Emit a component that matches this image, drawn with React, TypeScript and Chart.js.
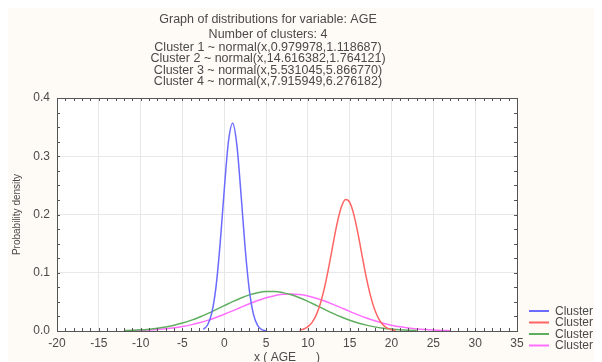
import React, { useEffect, useRef } from "react";
import { Chart, registerables } from "chart.js";

Chart.register(...registerables);

const titleLines = [
  "Graph of distributions for variable: AGE",
  "Number of clusters: 4",
  "Cluster 1 ~ normal(x,0.979978,1.118687)",
  "Cluster 2 ~ normal(x,14.616382,1.764121)",
  "Cluster 3 ~ normal(x,5.531045,5.866770)",
  "Cluster 4 ~ normal(x,7.915949,6.276182)",
];
const seriesNames = ["Cluster 1", "Cluster 2", "Cluster 3", "Cluster 4"];
const seriesColors = ["#6b6bff", "#ff6464", "#5fae5f", "#ff6eff"];
const xAxisTitle = "x ( AGE      )";
const yAxisTitle = "Probability density";

const c1X = [-2.5, -2, -1.5, -1, -0.5, 0, 0.5, 1, 1.5, 2, 2.5, 3, 3.5, 4, 4.5, 5];
const c1Y = [0.0028, 0.0103, 0.0306, 0.0745, 0.1487, 0.243, 0.3253, 0.3566, 0.3201, 0.2353, 0.1417, 0.0699, 0.0282, 0.0093, 0.0025, 0.0006];

const c2X = [9, 9.5, 10, 10.5, 11, 11.5, 12, 12.5, 13, 13.5, 14, 14.5, 15, 15.5, 16, 16.5, 17, 17.5, 18, 18.5, 19, 19.5, 20, 20.5];
const c2Y = [0.0014, 0.0034, 0.0074, 0.0149, 0.0277, 0.0475, 0.0753, 0.1101, 0.1486, 0.1851, 0.2127, 0.2256, 0.2208, 0.1994, 0.1662, 0.1278, 0.0907, 0.0594, 0.0359, 0.02, 0.0103, 0.0049, 0.0022, 0.0009];

const c3X = [-12, -11, -10, -9, -8, -7, -6, -5, -4, -3, -2, -1, 0, 1, 2, 3, 4, 5, 6, 7, 8, 9, 10, 11, 12, 13, 14, 15, 16, 17, 18, 19, 20, 21, 22, 23];
const c3Y = [0.0008, 0.0013, 0.002, 0.0032, 0.0048, 0.0069, 0.0099, 0.0136, 0.0182, 0.0236, 0.0298, 0.0366, 0.0436, 0.0505, 0.0567, 0.062, 0.0657, 0.0677, 0.0678, 0.0659, 0.0622, 0.0571, 0.0509, 0.044, 0.037, 0.0302, 0.024, 0.0185, 0.0138, 0.0101, 0.0071, 0.0049, 0.0033, 0.0021, 0.0013, 0.0008];

const c4X = [-11, -10, -9, -8, -7, -6, -5, -4, -3, -2, -1, 0, 1, 2, 3, 4, 5, 6, 7, 8, 9, 10, 11, 12, 13, 14, 15, 16, 17, 18, 19, 20, 21, 22, 23, 24, 25, 26, 27];
const c4Y = [0.0007, 0.0011, 0.0017, 0.0026, 0.0038, 0.0054, 0.0076, 0.0105, 0.014, 0.0182, 0.0232, 0.0287, 0.0346, 0.0408, 0.0468, 0.0523, 0.0571, 0.0607, 0.0629, 0.0636, 0.0626, 0.0602, 0.0563, 0.0514, 0.0458, 0.0397, 0.0336, 0.0277, 0.0223, 0.0175, 0.0134, 0.01, 0.0072, 0.0051, 0.0035, 0.0024, 0.0016, 0.001, 0.0006];

const xMin = -20;
const xMax = 35;
const xStep = 5;
const xMinorStep = 1;
const yMin = 0;
const yMax = 0.4;
const yStep = 0.1;
const yMinorStep = 0.025;

const FONT = "'Liberation Sans', Arial, sans-serif";
const TEXT = "#4a4a4a";
const BG = "#fefbf6";

const W = 594;
const H = 354;

function pts(xs: number[], ys: number[]) {
  return xs.map((x, i) => ({ x, y: ys[i] }));
}

const decorPlugin = {
  id: "decor",
  beforeDraw(chart: any) {
    const { ctx, chartArea } = chart;
    ctx.save();
    ctx.fillStyle = BG;
    ctx.fillRect(0, 0, chart.width, chart.height);
    ctx.fillStyle = "#ffffff";
    ctx.fillRect(chartArea.left, chartArea.top, chartArea.right - chartArea.left, chartArea.bottom - chartArea.top);
    ctx.restore();
  },
  afterDraw(chart: any) {
    const { ctx, chartArea } = chart;
    const xs = chart.scales.x;
    const ys = chart.scales.y;
    const { left, right, top, bottom } = chartArea;
    ctx.save();
    // frame
    ctx.strokeStyle = "#555555";
    ctx.lineWidth = 1;
    ctx.strokeRect(Math.round(left) + 0.5, Math.round(top) + 0.5, Math.round(right - left), Math.round(bottom - top));
    // minor ticks
    ctx.beginPath();
    for (let v = xMin; v <= xMax + 1e-9; v += xMinorStep) {
      const p = Math.round(xs.getPixelForValue(v)) + 0.5;
      ctx.moveTo(p, bottom);
      ctx.lineTo(p, bottom - 3);
      ctx.moveTo(p, top);
      ctx.lineTo(p, top + 3);
    }
    for (let v = yMin; v <= yMax + 1e-9; v += yMinorStep) {
      const p = Math.round(ys.getPixelForValue(v)) + 0.5;
      ctx.moveTo(left, p);
      ctx.lineTo(left + 3, p);
      ctx.moveTo(right, p);
      ctx.lineTo(right - 3, p);
    }
    ctx.stroke();

    // title
    ctx.fillStyle = TEXT;
    ctx.font = `12.5px ${FONT}`;
    ctx.textAlign = "center";
    ctx.textBaseline = "middle";
    const titleY = [11.5, 26.5, 39.5, 51, 62.5, 74];
    titleLines.forEach((t, i) => ctx.fillText(t, 260, titleY[i]));

    // axis titles
    ctx.font = `12px ${FONT}`;
    ctx.fillText(xAxisTitle, (left + right) / 2, 350);
    ctx.save();
    ctx.translate(9, (top + bottom) / 2);
    ctx.rotate(-Math.PI / 2);
    ctx.font = `10px ${FONT}`;
    ctx.fillText(yAxisTitle, 0, 0);
    ctx.restore();

    // legend
    ctx.textAlign = "left";
    ctx.font = `12px ${FONT}`;
    const legY = [303, 314.5, 326, 337.5];
    seriesNames.forEach((n, i) => {
      ctx.strokeStyle = seriesColors[i];
      ctx.lineWidth = 2;
      ctx.beginPath();
      ctx.moveTo(521, legY[i]);
      ctx.lineTo(541, legY[i]);
      ctx.stroke();
      ctx.fillStyle = TEXT;
      ctx.fillText(n, 547, legY[i] + 0.5);
    });
    ctx.restore();
  },
};

export default function App() {
  const ref = useRef<HTMLCanvasElement | null>(null);
  useEffect(() => {
    document.documentElement.style.overflow = "hidden";
    document.body.style.overflow = "hidden";
    const canvas = ref.current;
    if (!canvas) return;
    const data = [pts(c1X, c1Y), pts(c2X, c2Y), pts(c3X, c3Y), pts(c4X, c4Y)];
    const chart = new Chart(canvas, {
      type: "line",
      data: {
        datasets: data.map((d, i) => ({
          label: seriesNames[i],
          data: d,
          borderColor: seriesColors[i],
          borderWidth: 1.5,
          pointRadius: 0,
          fill: false,
          cubicInterpolationMode: "monotone" as const,
        })),
      },
      options: {
        responsive: false,
        animation: false,
        layout: { padding: { left: 0, right: 85, top: 90, bottom: 0 } },
        plugins: { legend: { display: false }, title: { display: false }, tooltip: { enabled: false } },
        scales: {
          x: {
            type: "linear",
            min: xMin,
            max: xMax,
            afterFit: (s: any) => {
              s.height = 31;
            },
            ticks: { stepSize: xStep, padding: 5, color: TEXT, font: { family: FONT, size: 12 }, maxRotation: 0 },
            grid: { color: "#e8e8e8", drawTicks: false },
            border: { display: false },
          },
          y: {
            type: "linear",
            min: yMin,
            max: yMax,
            afterFit: (s: any) => {
              s.width = 49;
            },
            ticks: {
              stepSize: yStep,
              padding: 7,
              color: TEXT,
              font: { family: FONT, size: 12 },
              callback: (v: any) => Number(v).toFixed(1),
            },
            grid: { color: "#e8e8e8", drawTicks: false },
            border: { display: false },
          },
        },
      },
      plugins: [decorPlugin],
    });
    return () => chart.destroy();
  }, []);
  return (
    <div style={{ width: W, height: H }}>
      <canvas ref={ref} width={W} height={H} style={{ display: "block", width: W, height: H }} />
    </div>
  );
}
